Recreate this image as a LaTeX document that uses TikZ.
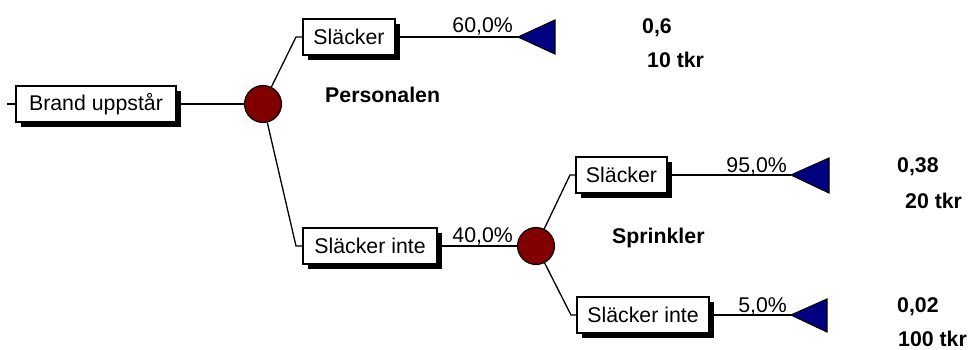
\documentclass[tikz,border=0pt]{standalone}
\usepackage{fontspec}
\setmainfont{Liberation Sans}
\usetikzlibrary{shadows}
\definecolor{chancered}{RGB}{128,0,0}
\definecolor{endblue}{RGB}{0,0,128}
\begin{document}
\begin{tikzpicture}[x=1pt,y=-1pt,
  every node/.style={font=\fontsize{21.3}{25}\selectfont},
  conn/.style={line width=1.3pt},
  decbox/.style={draw, fill=white, line width=1.3pt, minimum height=36pt, inner sep=0pt,
    drop shadow={shadow xshift=5pt, shadow yshift=-5pt, fill=black, opacity=1}},
  chance/.style={circle, draw, line width=1.1pt, fill=chancered, minimum size=37pt, inner sep=0pt},
  prob/.style={anchor=base east, inner sep=0pt},
  note/.style={anchor=base west, inner sep=0pt, font=\fontsize{21.3}{25}\selectfont\bfseries},
  endtri/.style={draw, line width=1.1pt, fill=endblue}]
\useasboundingbox (0,0) rectangle (974,350);

% root event and first chance node
\coordinate (s0) at (7,104);
\node[decbox, minimum width=160pt] (root) at (96,104) {Brand uppstår};
\node[chance] (c1) at (263,104) {};

% first-level outcomes
\coordinate (k1) at (296,37);
\coordinate (k2) at (296,246);
\node[decbox, minimum width=92pt] (b1) at (349,37) {Släcker};
\node[decbox, minimum width=134pt] (b2) at (370,246) {Släcker inte};
\coordinate (t1) at (518,37);
\node[chance] (c2) at (536,246) {};

% second-level outcomes
\coordinate (k3) at (570,175);
\coordinate (k4) at (571,315);
\node[decbox, minimum width=91pt] (b3) at (621.5,175) {Släcker};
\node[decbox, minimum width=132pt] (b4) at (643,315) {Släcker inte};
\coordinate (t2) at (791,175);
\coordinate (t3) at (791,315);

% connectors
\draw[conn] (s0) -- (root);
\draw[conn] (root) -- (c1);
\draw[conn] (c1) -- (k1) -- (b1);
\draw[conn] (c1) -- (k2) -- (b2);
\draw[conn] (b1) -- (t1);
\draw[conn] (b2) -- (c2);
\draw[conn] (c2) -- (k3) -- (b3);
\draw[conn] (c2) -- (k4) -- (b4);
\draw[conn] (b3) -- (t2);
\draw[conn] (b4) -- (t3);

% terminal triangles
\draw[endtri] (t1) -- ++(37,-17) -- ++(0,34) -- cycle;
\draw[endtri] (t2) -- ++(38,-17) -- ++(0,35) -- cycle;
\draw[endtri] (t3) -- ++(36,-16) -- ++(0,33) -- cycle;

% probabilities
\node[prob] (p1) at (513,33) {60,0\%};
\node[prob] (p2) at (513,242) {40,0\%};
\node[prob] (p3) at (787,172) {95,0\%};
\node[prob] (p4) at (787,312) {5,0\%};

% annotations
\node[note] (n1) at (325,103) {Personalen};
\node[note] (n2) at (612,243) {Sprinkler};
\node[note] (v1) at (642,34) {0,6};
\node[note] (v2) at (647,68) {10 tkr};
\node[note] (v3) at (897,172) {0,38};
\node[note] (v4) at (905,208) {20 tkr};
\node[note] (v5) at (897,312) {0,02};
\node[note] (v6) at (898,346.5) {100 tkr};
\end{tikzpicture}
\end{document}
